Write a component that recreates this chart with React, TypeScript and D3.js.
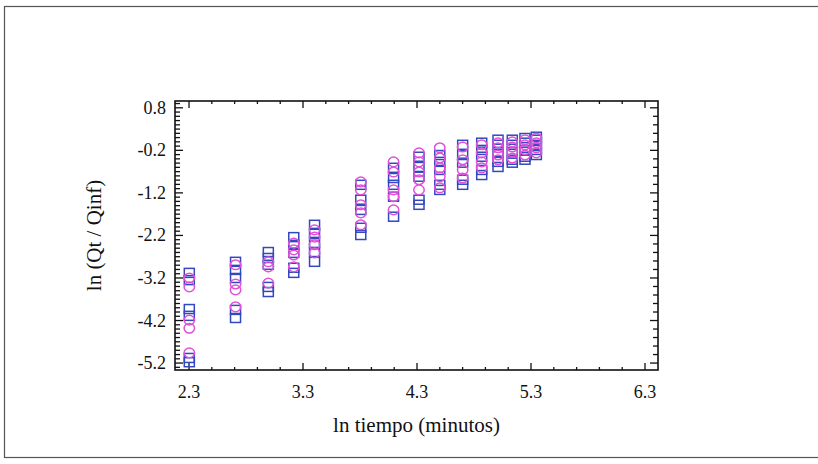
import React from "react";
import * as d3 from "d3";

// Time in minutes for each column of points (x = ln time)
const times = [10, 15, 20, 25, 30, 45, 60, 75, 90, 110, 130, 150, 170, 190, 210];

// ln(Qt/Qinf) values per time column — blue squares
const squareValues: number[][] = [
  [-3.08, -3.25, -3.93, -4.09, -5.08, -5.18],
  [-2.82, -3.01, -3.2, -3.95, -4.14],
  [-2.59, -2.73, -2.89, -3.41, -3.53],
  [-2.24, -2.42, -2.61, -2.96, -3.08],
  [-1.95, -2.14, -2.38, -2.59, -2.82],
  [-1.01, -1.36, -1.6, -2.02, -2.19],
  [-0.61, -0.85, -1.01, -1.29, -1.76],
  [-0.35, -0.59, -0.82, -1.36, -1.48],
  [-0.31, -0.47, -0.66, -1.01, -1.13],
  [-0.07, -0.31, -0.49, -0.89, -1.01],
  [-0.02, -0.19, -0.35, -0.66, -0.78],
  [0.05, -0.07, -0.24, -0.47, -0.59],
  [0.05, -0.07, -0.24, -0.42, -0.49],
  [0.09, -0.02, -0.19, -0.35, -0.42],
  [0.12, 0.05, -0.07, -0.19, -0.31],
];

// ln(Qt/Qinf) values per time column — magenta circles
const circleValues: number[][] = [
  [-3.2, -3.41, -4.19, -4.38, -4.96],
  [-2.89, -3.34, -3.48, -3.88],
  [-2.82, -2.94, -3.32],
  [-2.38, -2.54, -2.66, -2.94],
  [-2.07, -2.24, -2.42, -2.61],
  [-0.94, -1.13, -1.48, -1.67, -1.95],
  [-0.47, -0.71, -1.13, -1.29, -1.6],
  [-0.26, -0.47, -0.71, -0.89, -1.13],
  [-0.14, -0.38, -0.61, -0.82, -1.08],
  [-0.12, -0.42, -0.66, -0.85],
  [-0.07, -0.26, -0.47, -0.61],
  [-0.02, -0.14, -0.31, -0.42],
  [0.0, -0.12, -0.24, -0.38],
  [0.05, -0.07, -0.19, -0.31],
  [0.09, -0.02, -0.14, -0.26],
];

const xTickValues = [2.3, 3.3, 4.3, 5.3, 6.3];
const yTickValues = [0.8, -0.2, -1.2, -2.2, -3.2, -4.2, -5.2];
const xTitle = "ln tiempo (minutos)";
const yTitle = "ln (Qt / Qinf)";

const W = 818;
const H = 464;
const left = 175;
const right = 658;
const top = 101;
const bottom = 370;

export default function App() {
  const x = d3.scaleLinear().domain([2.177, 6.414]).range([left, right]);
  const y = d3.scaleLinear().domain([0.96, -5.363]).range([top, bottom]);

  const xMinor = d3.range(2.3, 6.31, 0.2).map((v) => +v.toFixed(2));
  const yMinorL = d3.range(-5.3, 0.95, 0.1).map((v) => +v.toFixed(2));
  const yMinorR = d3.range(-5.2, 0.95, 0.2).map((v) => +v.toFixed(2));
  const isMajorX = (v: number) => xTickValues.some((t) => Math.abs(t - v) < 1e-6);
  const isMajorY = (v: number) => yTickValues.some((t) => Math.abs(t - v) < 1e-6);

  const textStyle: React.CSSProperties = {
    fontFamily: "Liberation Serif, Times New Roman, Times, DejaVu Serif, serif",
  };
  const blue = "#3348c0";
  const pink = "#e050d8";

  return (
    <svg width={W} height={H} style={{ position: "absolute", left: 0, top: 0 }}>
      <rect x={0} y={0} width={W} height={H} fill="#fff" />
      <rect x={4.5} y={6.5} width={W + 10} height={451} fill="none" stroke="#555" strokeWidth={1.2} />

      {/* plot frame */}
      <rect x={left} y={top} width={right - left} height={bottom - top} fill="none" stroke="#111" strokeWidth={1.6} />

      {/* bottom & top x ticks */}
      {xMinor.map((v, i) => {
        const px = x(v);
        const len = isMajorX(v) ? 7 : 3;
        return (
          <g key={"xt" + i}>
            <line x1={px} x2={px} y1={bottom} y2={bottom - len} stroke="#111" strokeWidth={1.3} />
            <line x1={px} x2={px} y1={top} y2={top + len} stroke="#111" strokeWidth={1.3} />
          </g>
        );
      })}
      {/* left y ticks */}
      {yMinorL.map((v, i) => {
        const py = y(v);
        const len = isMajorY(v) ? 8 : 5;
        return <line key={"yl" + i} x1={left} x2={left + len} y1={py} y2={py} stroke="#111" strokeWidth={1.3} />;
      })}
      {/* right y ticks */}
      {yMinorR.map((v, i) => {
        const py = y(v);
        const len = isMajorY(v) ? 8 : 5;
        return <line key={"yr" + i} x1={right} x2={right - len} y1={py} y2={py} stroke="#111" strokeWidth={1.3} />;
      })}

      {/* tick labels */}
      {xTickValues.map((v) => (
        <text key={"xl" + v} x={x(v)} y={398} textAnchor="middle" style={textStyle} fontSize={18} fill="#111">
          {v.toFixed(1)}
        </text>
      ))}
      {yTickValues.map((v) => (
        <text key={"ylab" + v} x={166} y={y(v) + 6} textAnchor="end" style={textStyle} fontSize={18} fill="#111">
          {v.toFixed(1)}
        </text>
      ))}

      <text x={(left + right) / 2} y={432} textAnchor="middle" style={textStyle} fontSize={21} fill="#111">
        {xTitle}
      </text>
      <text
        transform={`translate(101,${(top + bottom) / 2}) rotate(-90)`}
        textAnchor="middle"
        style={textStyle}
        fontSize={21}
        fill="#111"
      >
        {yTitle}
      </text>

      {/* data */}
      {squareValues.map((col, i) =>
        col.map((v, j) => (
          <rect
            key={"s" + i + "_" + j}
            x={x(Math.log(times[i])) - 5}
            y={y(v) - 4.5}
            width={10}
            height={9}
            fill="none"
            stroke={blue}
            strokeWidth={1.5}
          />
        ))
      )}
      {circleValues.map((col, i) =>
        col.map((v, j) => (
          <ellipse
            key={"c" + i + "_" + j}
            cx={x(Math.log(times[i]))}
            cy={y(v)}
            rx={5.2}
            ry={4.8}
            fill="none"
            stroke={pink}
            strokeWidth={1.5}
          />
        ))
      )}
    </svg>
  );
}
